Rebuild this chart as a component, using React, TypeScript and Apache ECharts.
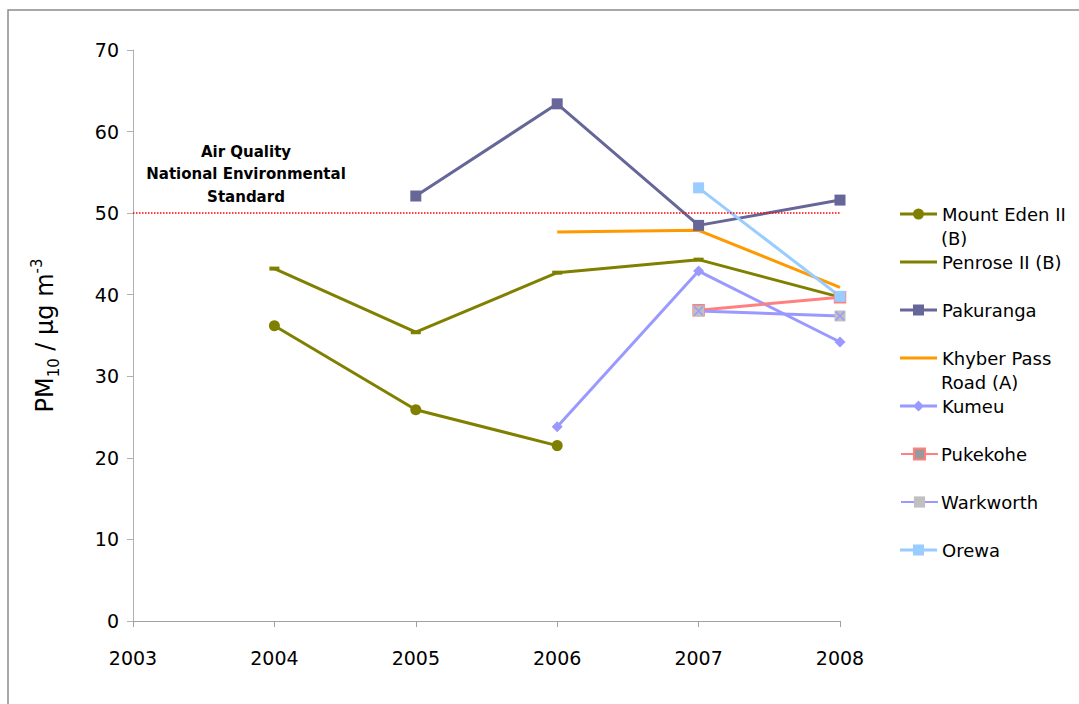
import React, { useEffect, useRef } from "react";
import * as echarts from "echarts";

const years = ["2003", "2004", "2005", "2006", "2007", "2008"];
const yTicks = [0, 10, 20, 30, 40, 50, 60, 70];
const standardValue = 50;

const mountEden = [null, 36.2, 25.9, 21.5, null, null];
const penrose = [null, 43.2, 35.4, 42.7, 44.3, 39.7];
const pakuranga = [null, null, 52.1, 63.4, 48.5, 51.6];
const khyber = [null, null, null, 47.7, 47.9, 40.9];
const kumeu = [null, null, null, 23.8, 42.9, 34.2];
const pukekohe = [null, null, null, null, 38.1, 39.7];
const warkworth = [null, null, null, null, 38.0, 37.4];
const orewa = [null, null, null, null, 53.1, 39.8];

const FONT = "DejaVu Sans";
const X_PATH =
  "path://M0,1 L1,0 L5,4 L9,0 L10,1 L6,5 L10,9 L9,10 L5,6 L1,10 L0,9 L4,5 Z";

// legend icons drawn in a 37 x 12 box
const BAR = "M0,4.5 L37,4.5 L37,7.5 L0,7.5 Z";
const ICON_LINE = "path://" + BAR;
const ICON_SQUARE = "path://" + BAR + " M13,0.5 L24,0.5 L24,11.5 L13,11.5 Z";
const ICON_CIRCLE =
  "path://" + BAR + " M24,6 A5.5,5.5 0 1,1 13,6 A5.5,5.5 0 1,1 24,6 Z";
const ICON_DIAMOND = "path://" + BAR + " M18.5,0.5 L24,6 L18.5,11.5 L13,6 Z";

export default function App() {
  const ref = useRef<HTMLDivElement>(null);
  useEffect(() => {
    const chart = echarts.init(ref.current!, null, { renderer: "svg" });
    const line = (
      name: string,
      data: (number | null)[],
      color: string,
      symbol: string,
      symbolSize: any,
      extra: any = {}
    ) => ({
      name,
      type: "line",
      data: data.map((v) => (v === null ? "-" : v)),
      symbol,
      symbolSize,
      showSymbol: symbol !== "none",
      lineStyle: { color, width: 3 },
      itemStyle: { color, ...(extra.itemStyle || {}) },
      connectNulls: false,
      z: extra.z ?? 3,
      ...(extra.rest || {}),
    });

    const legendRows: [string, string, number, string | null][] = [
      ["Mount Eden II (B)", "Mount Eden II", 214, ICON_CIRCLE],
      ["Penrose II (B)", "Penrose II (B)", 262, ICON_LINE],
      ["Pakuranga", "Pakuranga", 310, ICON_SQUARE],
      ["Khyber Pass Road (A)", "Khyber Pass", 358, ICON_LINE],
      ["Kumeu", "Kumeu", 406, ICON_DIAMOND],
      ["Pukekohe", "Pukekohe", 454, null],
      ["Warkworth", "Warkworth", 502, null],
      ["Orewa", "Orewa", 550, ICON_SQUARE],
    ];

    chart.setOption({
      animation: false,
      backgroundColor: "#ffffff",
      grid: { left: 133, right: 239, top: 50, bottom: 83 },
      xAxis: {
        type: "category",
        data: years,
        boundaryGap: false,
        axisLine: { lineStyle: { color: "#a0a0a0", width: 1 } },
        axisTick: { show: true, length: 6, inside: false, lineStyle: { color: "#a0a0a0" } },
        axisLabel: { color: "#000", fontSize: 19, fontFamily: FONT, margin: 27 },
        splitLine: { show: false },
      },
      yAxis: {
        type: "value",
        min: yTicks[0],
        max: yTicks[yTicks.length - 1],
        interval: 10,
        axisLine: { show: true, lineStyle: { color: "#b0b0b0", width: 1 } },
        axisTick: { show: true, length: 6, lineStyle: { color: "#b0b0b0" } },
        axisLabel: { color: "#000", fontSize: 19, fontFamily: FONT, margin: 14 },
        splitLine: { show: false },
        name: "{m|PM}{s|10}{m| / µg m}{p|-3}",
        nameLocation: "middle",
        nameRotate: 90,
        nameGap: 72,
        nameTextStyle: {
          rich: {
            m: { fontSize: 24, fontFamily: FONT, color: "#000", lineHeight: 32, verticalAlign: "middle" },
            s: { fontSize: 15, fontFamily: FONT, color: "#000", lineHeight: 32, verticalAlign: "bottom" },
            p: { fontSize: 15, fontFamily: FONT, color: "#000", lineHeight: 32, verticalAlign: "top" },
          },
        },
      },
      legend: legendRows.map(([name, label, y, icon]) => ({
        data: [icon ? { name, icon } : name],
        left: 900,
        top: y - 10,
        padding: 0,
        itemWidth: 37,
        itemHeight: icon ? 12 : 14,
        itemGap: 0,
        formatter: () => label,
        textStyle: {
          fontSize: 18,
          fontFamily: FONT,
          color: "#000",
          lineHeight: 20,
          padding: icon ? [0, 0, 0, 0] : [0, 0, 0, -2],
        },
      })),
      graphic: [
        {
          type: "rect",
          shape: { x: 8, y: 10, width: 1200, height: 800 },
          style: { fill: "none", stroke: "#8c8c8c", lineWidth: 1.5 },
          silent: true,
        },
        {
          type: "text",
          x: 246,
          y: 174,
          style: {
            text: "Air Quality\nNational Environmental\nStandard",
            font: `bold 15px '${FONT}'`,
            fill: "#000",
            align: "center",
            verticalAlign: "middle",
            lineHeight: 22.5,
          },
        },
        {
          type: "text",
          left: 941,
          top: 229,
          style: { text: "(B)", font: `18px '${FONT}'`, fill: "#000" },
        },
        {
          type: "text",
          left: 941,
          top: 373,
          style: { text: "Road (A)", font: `18px '${FONT}'`, fill: "#000" },
        },
      ],
      series: [
        line("Mount Eden II (B)", mountEden, "#808000", "circle", 11, {
          rest: {
            markLine: {
              silent: true,
              symbol: "none",
              label: { show: false },
              lineStyle: { color: "#ff0000", type: "dotted", width: 1.5 },
              data: [{ yAxis: standardValue }],
            },
          },
        }),
        line("Penrose II (B)", penrose, "#808000", "rect", [10, 4]),
        line("Pakuranga", pakuranga, "#666699", "rect", 11),
        line("Khyber Pass Road (A)", khyber, "#ff9900", "none", 0),
        line("Kumeu", kumeu, "#9999ff", "diamond", 11),
        line("Pukekohe", pukekohe, "#ff8080", "rect", 11, {
          itemStyle: { color: "#999999", borderColor: "#ff8080", borderWidth: 1.5 },
        }),
        line("Warkworth", warkworth, "#9999ff", "rect", 11, {
          itemStyle: { color: "#c0c0c0" },
        }),
        {
          name: "Warkworth-x",
          type: "line",
          data: warkworth.map((v) => (v === null ? "-" : v)),
          symbol: X_PATH,
          symbolSize: 10,
          lineStyle: { opacity: 0 },
          itemStyle: { color: "#9999ff" },
          z: 5,
          silent: true,
        },
        line("Orewa", orewa, "#99ccff", "rect", 11),
      ],
    });
    return () => chart.dispose();
  }, []);
  return (
    <div
      ref={ref}
      style={{ position: "fixed", left: 0, top: 0, width: 1079, height: 704, background: "#fff" }}
    />
  );
}
